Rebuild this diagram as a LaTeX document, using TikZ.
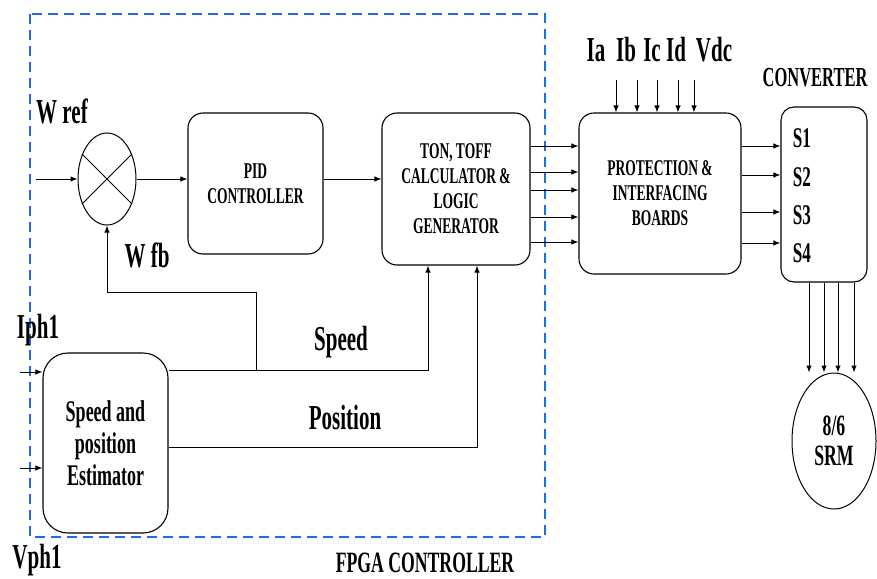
\documentclass[tikz,border=0pt]{standalone}
\usepackage{fontspec}
\setmainfont{Liberation Serif}[FakeStretch=0.6]
\usetikzlibrary{arrows.meta,shapes.geometric}
\definecolor{fpgablue}{RGB}{28,108,222}

\begin{document}
\begin{tikzpicture}[x=1pt,y=-1pt,line width=1pt,
  >={Latex[length=7pt,width=5.5pt]},
  blk/.style={draw,line width=1.1pt,rounded corners=15pt,align=center,inner sep=2pt,
    font=\fontsize{22.5}{25}\selectfont\bfseries},
  lbl/.style={inner sep=0pt,font=\fontsize{35}{36}\selectfont\bfseries},
  smlbl/.style={inner sep=0pt,align=center,font=\fontsize{29.5}{31}\selectfont\bfseries},
  sig/.style={->}]
\useasboundingbox (0,0) rectangle (877,578);

% FPGA boundary
\draw[fpgablue,line width=2.3pt,dash pattern=on 10pt off 6pt] (30,14) rectangle (545,537);
\node[smlbl] (fpga) at (425,563) {FPGA CONTROLLER};

% summing junction
\node[draw,ellipse,minimum width=58pt,minimum height=92pt,inner sep=0pt] (sum) at (107,179) {};
\draw (sum.45) -- (sum.-135);
\draw (sum.135) -- (sum.-45);
\coordinate (wref) at (36,179);
\draw[sig] (wref) -- (sum.west);
\node[lbl] (wreftxt) at (62,111) {W ref};
\node[lbl] (wfbtxt) at (147,255) {W fb};

% blocks
\node[blk,minimum width=135pt,minimum height=141pt] (pid) at (255.5,183.5) {PID\\CONTROLLER};
\node[blk,minimum width=148pt,minimum height=152pt] (ton) at (456,189) {TON, TOFF\\CALCULATOR \&\\LOGIC\\GENERATOR};
\node[blk,minimum width=162pt,minimum height=161pt] (prot) at (660,193.5) {PROTECTION \&\\INTERFACING\\BOARDS};
\node[blk,rounded corners=13pt,minimum width=86pt,minimum height=175pt] (conv) at (824,194.5) {};
\node[blk,rounded corners=25pt,minimum width=125pt,minimum height=180pt,
  font=\fontsize{30}{32}\selectfont\bfseries] (est) at (105.5,443) {Speed and\\position\\Estimator};
\node[draw,ellipse,minimum width=84pt,minimum height=136pt,inner sep=0pt,
  align=center,font=\fontsize{29.5}{30}\selectfont\bfseries] (srm) at (834,441) {8/6\\SRM};

\draw[sig] (sum.east) -- (sum.east -| pid.west);
\draw[sig] (pid.east |- sum.east) -- (ton.west |- sum.east);
\foreach \y in {146,172,190,217,242}
  \draw[sig] (ton.east |- 0,\y) -- (prot.west |- 0,\y);

% sensed signals
\foreach \x in {616,637,657,678,694}
  \draw[sig] (\x,80) -- (prot.north -| \x,0);
\node[lbl] (ia) at (596,50) {Ia};
\node[lbl] (ib) at (626,50) {Ib};
\node[lbl] (ic) at (652,50) {Ic};
\node[lbl] (id) at (676,50) {Id};
\node[lbl] (vdc) at (714,50) {Vdc};

% converter
\node[smlbl,font=\fontsize{27.5}{28}\selectfont\bfseries] (convtxt) at (815,78) {CONVERTER};
\foreach \y in {146,175,212,243}
  \draw[sig] (prot.east |- 0,\y) -- (conv.west |- 0,\y);
\foreach \i/\y in {1/138,2/177,3/215,4/253}
  \node[smlbl,font=\fontsize{28.5}{28}\selectfont\bfseries] (s\i) at (802,\y) {S\i};
\foreach \x in {809,824,838,854}
  \draw[sig] (conv.south -| \x,0) -- (srm.north -| \x,0);

% estimator
\coordinate (iph) at (20,372);
\coordinate (vph) at (20,468);
\draw[sig] (iph) -- (est.west |- iph);
\draw[sig] (vph) -- (est.west |- vph);
\node[lbl] (iphtxt) at (38,330) {Iph1};
\node[lbl] (vphtxt) at (37,560) {Vph1};

\coordinate (spd) at (428,370);
\coordinate (pos) at (477,447);
\coordinate (fb) at (256,292);
\draw[sig] (est.east |- spd) -| (ton.south -| spd);
\draw[sig] (est.east |- pos) -| (ton.south -| pos);
\draw[sig] (fb |- spd) -- (fb) -| (sum.south);
\node[lbl] (spdtxt) at (341,342) {Speed};
\node[lbl] (postxt) at (345,418) {Position};
\end{tikzpicture}
\end{document}
